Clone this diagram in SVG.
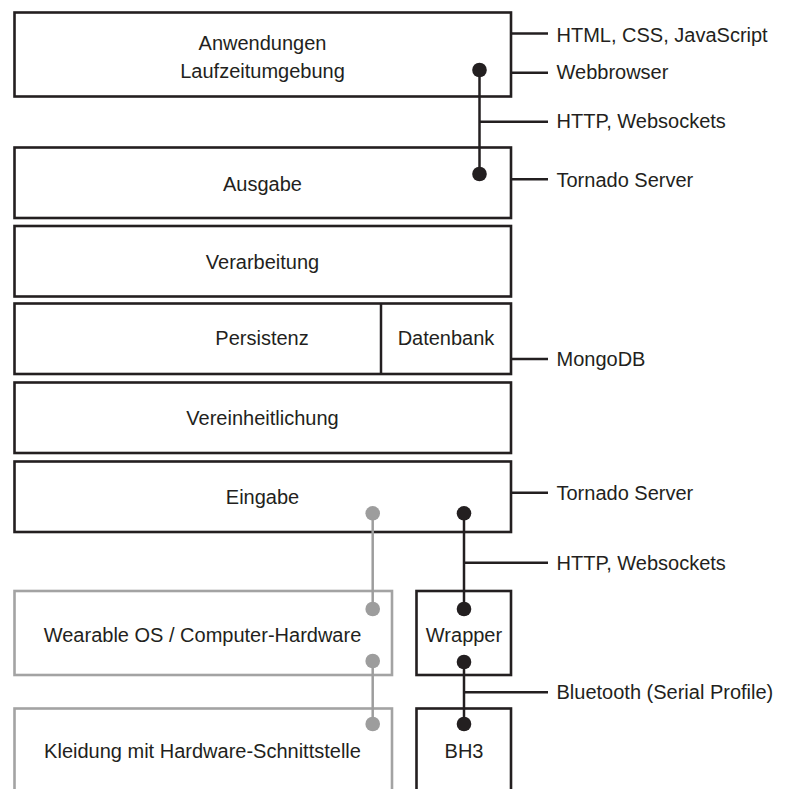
<svg xmlns="http://www.w3.org/2000/svg" width="787" height="789" viewBox="0 0 787 789">
<style>
.bg{fill:#ffffff}
.box{fill:#ffffff;stroke:#231f20;stroke-width:2.6}
.gbox{fill:#ffffff;stroke:#a3a3a3;stroke-width:2.6}
.ln{fill:none;stroke:#231f20;stroke-width:2.5}
.gln{fill:none;stroke:#9d9d9d;stroke-width:2.5}
.dot{fill:#231f20}
.gdot{fill:#9d9d9d}
text{font-family:"Liberation Sans",Arial,sans-serif;font-size:20px;fill:#231f20}
.c{text-anchor:middle}
</style>
<rect class="bg" x="0" y="0" width="787" height="789"/>
<g id="n-anwendungen">
<rect class="box" x="14.5" y="12.5" width="496.5" height="84"/>
<text class="c" x="262.5" y="50">Anwendungen</text>
<text class="c" x="262.5" y="77.5">Laufzeitumgebung</text>
</g>
<g id="n-ausgabe">
<rect class="box" x="14.5" y="147.5" width="496.5" height="70.5"/>
<text class="c" x="262.5" y="190.5">Ausgabe</text>
</g>
<g id="n-verarbeitung">
<rect class="box" x="14.5" y="226" width="496.5" height="70.5"/>
<text class="c" x="262.5" y="269">Verarbeitung</text>
</g>
<g id="n-persistenz">
<rect class="box" x="14.5" y="303.5" width="496.5" height="70.5"/>
<line class="ln" x1="381" y1="303.5" x2="381" y2="374"/>
<text class="c" x="262" y="345">Persistenz</text>
<text class="c" x="446" y="345">Datenbank</text>
</g>
<g id="n-vereinheitlichung">
<rect class="box" x="14.5" y="382.5" width="496.5" height="70.5"/>
<text class="c" x="262.5" y="425">Vereinheitlichung</text>
</g>
<g id="n-eingabe">
<rect class="box" x="14.5" y="461.5" width="496.5" height="70.5"/>
<text class="c" x="262.5" y="503.5">Eingabe</text>
</g>
<g id="n-wearable">
<rect class="gbox" x="14.5" y="591" width="377.5" height="84"/>
<text class="c" x="202.5" y="641.5">Wearable OS / Computer-Hardware</text>
</g>
<g id="n-kleidung">
<rect class="gbox" x="14.5" y="708.5" width="377.5" height="100"/>
<text class="c" x="202.5" y="757.5">Kleidung mit Hardware-Schnittstelle</text>
</g>
<g id="n-wrapper">
<rect class="box" x="416.5" y="591" width="94.5" height="84"/>
<text class="c" x="464" y="641.5">Wrapper</text>
</g>
<g id="n-bh3">
<rect class="box" x="416.5" y="708.5" width="94.5" height="100"/>
<text class="c" x="464" y="758">BH3</text>
</g>
<g id="connectors">
<line class="ln" x1="479.5" y1="70" x2="479.5" y2="174"/>
<line class="ln" x1="479.5" y1="121.7" x2="548" y2="121.7"/>
<circle class="dot" cx="479.5" cy="70" r="7.3"/>
<circle class="dot" cx="479.5" cy="174" r="7.3"/>
<line class="ln" x1="511" y1="33.5" x2="548" y2="33.5"/>
<line class="ln" x1="511" y1="72.7" x2="548" y2="72.7"/>
<line class="ln" x1="511" y1="179.3" x2="548" y2="179.3"/>
<line class="ln" x1="511" y1="359" x2="548" y2="359"/>
<line class="ln" x1="511" y1="492.7" x2="548" y2="492.7"/>
<line class="ln" x1="464" y1="513.3" x2="464" y2="609"/>
<line class="ln" x1="464" y1="562.7" x2="548" y2="562.7"/>
<circle class="dot" cx="464" cy="513.3" r="7.3"/>
<circle class="dot" cx="464" cy="609" r="7.3"/>
<line class="ln" x1="464" y1="662" x2="464" y2="724"/>
<line class="ln" x1="464" y1="692.3" x2="548" y2="692.3"/>
<circle class="dot" cx="464" cy="662" r="7.3"/>
<circle class="dot" cx="464" cy="724" r="7.3"/>
<line class="gln" x1="372.7" y1="513.3" x2="372.7" y2="609"/>
<line class="gln" x1="372.7" y1="661" x2="372.7" y2="724"/>
<circle class="gdot" cx="372.7" cy="513.3" r="7.3"/>
<circle class="gdot" cx="372.7" cy="609" r="7.3"/>
<circle class="gdot" cx="372.7" cy="661" r="7.3"/>
<circle class="gdot" cx="372.7" cy="724" r="7.3"/>
</g>
<g id="labels">
<text x="556.5" y="41.5">HTML, CSS, JavaScript</text>
<text x="556.5" y="78.5">Webbrowser</text>
<text x="556.5" y="128.3">HTTP, Websockets</text>
<text x="556.5" y="187.3">Tornado Server</text>
<text x="556.5" y="365.7">MongoDB</text>
<text x="556.5" y="500">Tornado Server</text>
<text x="556.5" y="570">HTTP, Websockets</text>
<text x="556.5" y="699.3">Bluetooth (Serial Profile)</text>
</g>
</svg>
